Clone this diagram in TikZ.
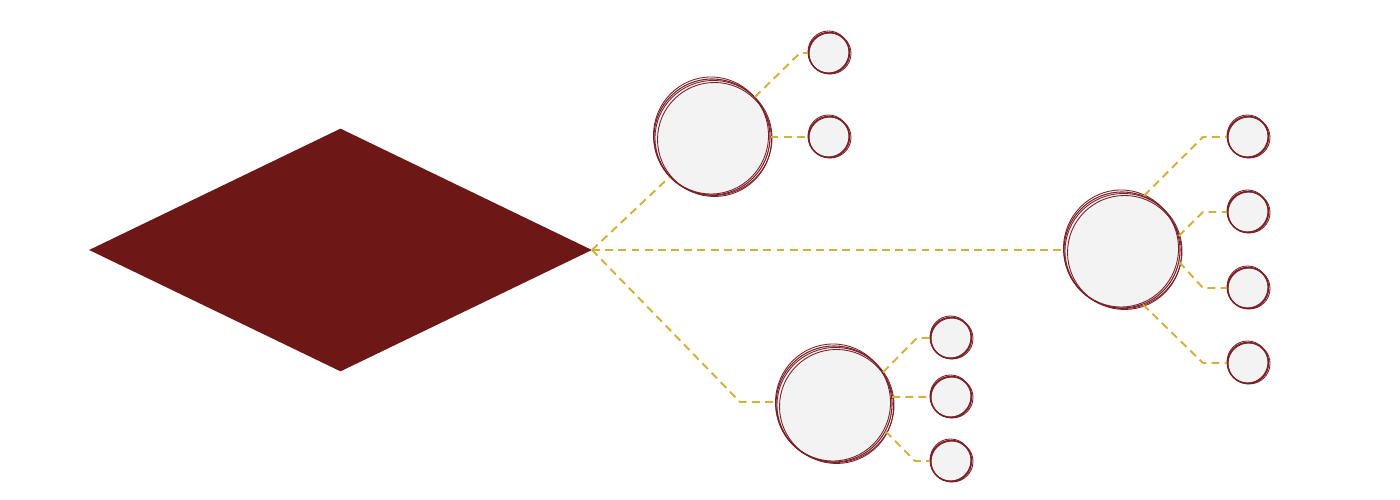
\documentclass[tikz,border=0pt]{standalone}
\usetikzlibrary{shapes.geometric}
\definecolor{wine}{HTML}{6D1717}
\definecolor{ring}{HTML}{7A2026}
\definecolor{paleg}{HTML}{F3F3F3}
\definecolor{gold}{HTML}{D4B03E}
\tikzset{
  bigc/.style={circle,draw=ring,line width=0.6pt,fill=paleg,minimum size=2.32cm,inner sep=0pt},
  smallc/.style={circle,draw=ring,line width=0.8pt,fill=paleg,minimum size=0.82cm,inner sep=0pt},
  skline/.style={draw=ring,line width=0.5pt},
  link/.style={draw=gold,line width=1.1pt,dash pattern=on 4.5pt off 3pt},
}
\newcommand\skbig[1]{%
  \draw[skline] ([shift={(0.03,-0.02)}]#1.center) ellipse [x radius=1.17, y radius=1.15];
  \draw[skline] ([shift={(-0.02,0.03)}]#1.center) ellipse [x radius=1.15, y radius=1.17];
  \draw[skline] ([shift={(0.05,-0.05)}]#1.center) ellipse [x radius=1.14, y radius=1.14];
}
\newcommand\sksmall[1]{%
  \draw[skline] ([shift={(0.02,-0.01)}]#1.center) ellipse [x radius=0.42, y radius=0.41];
  \draw[skline] ([shift={(-0.01,0.02)}]#1.center) ellipse [x radius=0.41, y radius=0.42];
}
\begin{document}
\begin{tikzpicture}
\useasboundingbox (0,0) rectangle (28,10);
% diamond
\node[diamond,fill=wine,draw=none,inner sep=0pt,minimum width=10.06cm,minimum height=4.86cm] (d) at (6.81,5.00) {};
\coordinate (tip) at (11.84,5.00);
% big circles
\node[bigc] (A) at (14.24,7.26) {};
\node[bigc] (B) at (16.68,1.92) {};
\node[bigc] (C) at (22.44,5.00) {};
% small circles
\node[smallc] (A1) at (16.58,8.94) {};
\node[smallc] (A2) at (16.58,7.26) {};
\node[smallc] (B1) at (19.02,3.24) {};
\node[smallc] (B2) at (19.02,2.06) {};
\node[smallc] (B3) at (19.02,0.78) {};
\node[smallc] (C1) at (24.96,7.26) {};
\node[smallc] (C2) at (24.96,5.76) {};
\node[smallc] (C3) at (24.96,4.24) {};
\node[smallc] (C4) at (24.96,2.74) {};
% sketch rings
\skbig{A}\skbig{B}\skbig{C}
\sksmall{A1}\sksmall{A2}\sksmall{B1}\sksmall{B2}\sksmall{B3}
\sksmall{C1}\sksmall{C2}\sksmall{C3}\sksmall{C4}
% corner coordinates
\coordinate (kA1) at (16.00,8.94);
\coordinate (kB) at (14.80,1.96);
\coordinate (kB1) at (18.34,3.24);
\coordinate (kB3) at (18.30,0.78);
\coordinate (kC1) at (24.06,7.26);
\coordinate (kC2) at (24.06,5.76);
\coordinate (kC3) at (24.06,4.24);
\coordinate (kC4) at (24.06,2.74);
% connectors
\path[link] (tip) -- (A);
\path[link] (tip) -- (kB) -- (kB -| B.west);
\path[link] (tip) -- (C);
\path[link] (A.43) -- (kA1) -- (A1);
\path[link] (A) -- (A2);
\path[link] (B.33) -- (kB1) -- (B1);
\path[link] (B.7) -- (B2);
\path[link] (B.-28) -- (kB3) -- (B3);
\path[link] (C.68.7) -- (kC1) -- (C1);
\path[link] (C.14.8) -- (kC2) -- (C2);
\path[link] (C.-12.6) -- (kC3) -- (C3);
\path[link] (C.-69) -- (kC4) -- (C4);
\end{tikzpicture}
\end{document}
